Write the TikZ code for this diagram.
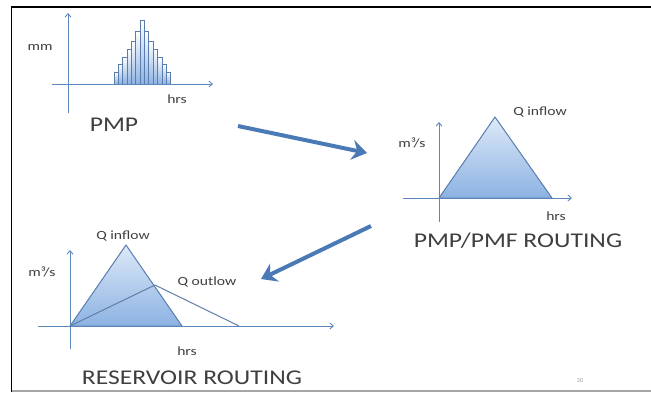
\documentclass[tikz,border=0pt]{standalone}
\usepackage{fontspec}
\usepackage{graphicx}
\setmainfont{Carlito}
\usetikzlibrary{arrows.meta}
\definecolor{axisc}{HTML}{5B87BD}
\definecolor{edgec}{HTML}{5A7DAE}
\definecolor{fillb}{HTML}{8CB2E2}
\definecolor{fillt}{HTML}{DDE9F8}
\definecolor{arrc}{HTML}{4A7AB5}
\definecolor{txtc}{HTML}{3F3F3F}
\newcommand{\lw}[1]{\scalebox{1.25}[1]{#1}}
\newcommand{\tw}[1]{\scalebox{1.22}[1]{#1}}
\tikzset{
  axis/.style={draw=axisc, line width=0.9pt, -{Straight Barb[length=3.5pt,width=6pt]}},
  tri/.style={draw=edgec, line width=1pt, line join=round, top color=fillt, bottom color=fillb},
  bar/.style={draw=edgec, line width=0.7pt, top color=white, bottom color=fillb},
  lbl/.style={font=\fontsize{12.5}{14}\selectfont, text=txtc, inner sep=0pt},
  title/.style={font=\fontsize{21}{25}\selectfont, text=txtc, inner sep=0pt},
  bigarrow/.style={draw=arrc, line width=4pt, -{Stealth[length=15pt,width=20pt,inset=5pt]}},
}
\begin{document}
\begin{tikzpicture}[x=1pt,y=-1pt]
\useasboundingbox (0,0) rectangle (651,392);
% frame
\draw[black, line width=1.3pt] (11.5,392) -- (11.5,7) -- (651,7);
\draw[gray!70, line width=1.2pt] (11.5,391) -- (651,391);

% ---------- panel 1: PMP ----------
\foreach \h [count=\i from 0] in {12,20,27,35,43,53,64,53,43,35,27,20,12} {
  \path[bar] ({114+\i*4.35},84) rectangle ({114+(\i+1)*4.35},{84-\h});
}
\draw[axis] (68,113) -- (68,13);
\draw[axis] (52,84) -- (213,84);
\node[lbl] (mm) at (40,47) {\lw{mm}};
\node[lbl] (hrs1) at (177,99) {\lw{hrs}};
\node[title] (pmp) at (114,125) {\tw{PMP}};

% ---------- panel 2: PMP/PMF routing ----------
\coordinate (p2o) at (439,198);
\coordinate (p2pk) at (495,117);
\coordinate (p2r) at (552,198);
\path[tri] (p2o) -- (p2pk) -- (p2r) -- cycle;
\draw[axis] (439,222) -- (439,122);
\draw[axis] (403,198) -- (572,198);
\node[lbl] (qin2) at (540,112) {\lw{Q inflow}};
\node[lbl] (m2) at (412,143) {\lw{m³/s}};
\node[lbl] (hrs2) at (556,216) {\lw{hrs}};
\node[title] (pmf) at (518,241) {\tw{PMP/PMF ROUTING}};

% ---------- panel 3: reservoir routing ----------
\coordinate (p3o) at (70,326);
\coordinate (p3pk) at (126,245);
\coordinate (p3r) at (182,326);
\coordinate (p3opk) at (155,285);
\coordinate (p3or) at (239,326);
\path[tri] (p3o) -- (p3pk) -- (p3r) -- cycle;
\draw[edgec!80!gray, line width=1pt, line join=round] (p3o) -- (p3opk) -- (p3or);
\draw[axis] (70,349) -- (70,250);
\draw[axis] (38,326) -- (334,326);
\node[lbl] (qin3) at (123,236) {\lw{Q inflow}};
\node[lbl] (qout3) at (207,282) {\lw{Q outlow}};
\node[lbl] (m3) at (42,272) {\lw{m³/s}};
\node[lbl] (hrs3) at (187,351) {\lw{hrs}};
\node[title] (res) at (192,378) {\tw{RESERVOIR ROUTING}};

\node[font=\fontsize{6}{7}\selectfont, text=gray!80, inner sep=0pt] (pg) at (580,381) {30};

% ---------- big arrows ----------
\coordinate (a1s) at (238,126);
\coordinate (a1e) at (367,153);
\coordinate (a2s) at (371,226);
\coordinate (a2e) at (261,279);
\draw[bigarrow] (a1s) -- (a1e);
\draw[bigarrow] (a2s) -- (a2e);
\end{tikzpicture}
\end{document}
